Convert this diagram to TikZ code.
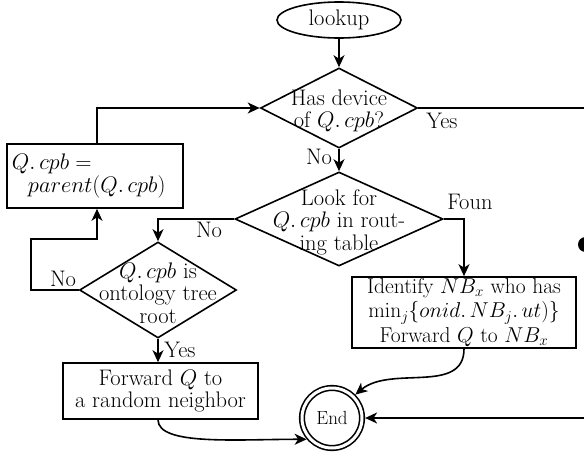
\IfFileExists{fix-cm.sty}{\RequirePackage{fix-cm}}{}
\documentclass[tikz,border=0pt]{standalone}
\usetikzlibrary{arrows.meta,shapes.geometric,calc}
\begin{document}
\begin{tikzpicture}[x=1pt,y=-1pt, line width=1.6pt,
  font=\fontsize{22.5}{22.5}\selectfont,
  arr/.style={-{Stealth[length=12pt,width=11pt,inset=3.5pt]}},
  dia/.style={diamond, draw, inner sep=0pt},
  boxs/.style={draw, rectangle, inner sep=0pt, align=center},
  lab/.style={inner sep=0pt}
]
\useasboundingbox (0,0) rectangle (584,453);
\clip (0,0) rectangle (584,453);

% nodes
\node[draw, ellipse, minimum width=124pt, minimum height=36pt, inner sep=0pt] (lookup) at (339,20) {lookup};
\node[dia, minimum width=157pt, minimum height=80pt,
  label={[align=center,yshift=-3pt,name=d1t]center:{Has device\\of $Q.\,cpb$?}}] (d1) at (339,108) {};
\node[dia, minimum width=208pt, minimum height=94pt,
  label={[align=center,yshift=-3pt,name=d2t]center:{Look for\\$Q.\,cpb$ in rout-\\ing table}}] (d2) at (339,219) {};
\node[dia, minimum width=157pt, minimum height=96pt,
  label={[align=center,yshift=-3pt,name=d3t]center:{$Q.\,cpb$ is\\ontology tree\\root}}] (d3) at (158,290) {};
\node[boxs, minimum width=176pt, minimum height=64pt, text width=166pt, align=left] (b1) at (95,176)
  {$Q.\,cpb=$\\\hspace*{16pt}$parent(Q.\,cpb)$};
\node[boxs, minimum width=224pt, minimum height=71pt, font=\fontsize{21.5}{24.5}\selectfont] (b2) at (464,312.5)
  {Identify $NB_x$ who has\\$\min_j\{onid.\,NB_j.\,ut)\}$\\Forward $Q$ to $NB_x$};
\node[boxs, minimum width=195pt, minimum height=56pt] (b3) at (160.5,391)
  {Forward $Q$ to\\a random neighbor};
\node[circle, draw, double, double distance=3pt, minimum size=60pt, inner sep=0pt, outer sep=3.1pt,
  font=\fontsize{19}{20}\selectfont] (end) at (332,418) {End};
\node[circle, fill, minimum size=15pt, inner sep=0pt] (dot) at (585.5,244.5) {};

% labels
\node[lab] (yes1) at (442,121) {Yes};
\node[lab] (no1) at (319,157) {No};
\node[lab] (foun) at (470,202) {Foun};
\node[lab] (no2) at (209,230) {No};
\node[lab] (no3) at (63,279) {No};
\node[lab] (yes3) at (180,350) {Yes};

% connectors
\coordinate (rt) at (600,108);
\draw[arr] (lookup) -- (d1.north);
\draw[arr] (d1.south) -- (d2.north);
\draw[arr] (d1.east) -- (rt) |- (end.east);
\draw[arr] (d2.east) -| (b2.north);
\draw[arr] (d2.west) -| (d3.north);
\draw[arr] (d3.south) -- (d3.south |- b3.north);
\draw[arr] (d3.west) -- ++(-48,0) |- ($(b1.south)+(2,30)$) -- ($(b1.south)+(2,0)$);
\draw[arr] ($(b1.north)+(2,0)$) |- (d1.west);
\draw[arr] (b2.south) to[out=-90,in=40] (end.north east);
\draw[arr] (d3.south |- b3.south) .. controls +(0,26) and +(-70,0) .. (end.220);
\end{tikzpicture}
\end{document}
